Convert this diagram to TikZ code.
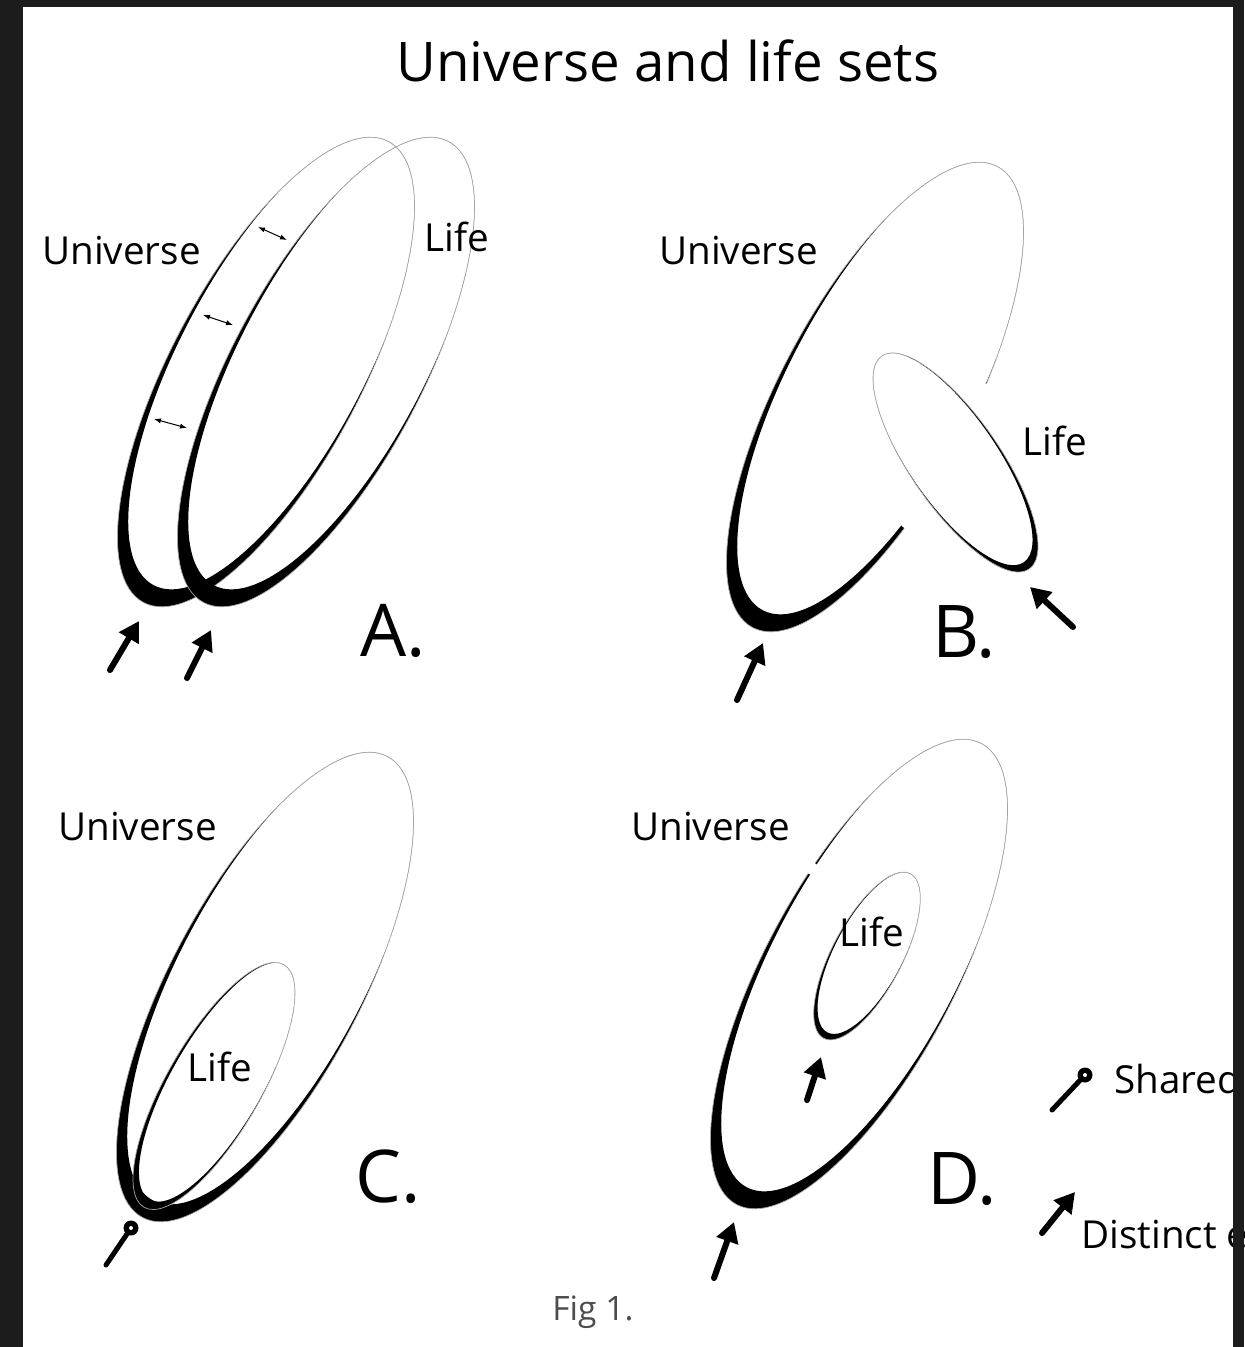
\documentclass[tikz,border=0pt]{standalone}
\usepackage{fontspec}
\setmainfont{Open Sans}
\usetikzlibrary{arrows.meta}
\definecolor{framecol}{HTML}{1C1C1C}
\definecolor{figgray}{HTML}{4D4D4D}
% #1,#2 centre  #3 angle  #4,#5 outer radii  #6,#7 inner radii  #8,#9 inner shift
\newcommand\setring[9]{%
  \begin{scope}[shift={(#1,#2)}, rotate=#3]
    \begin{scope}
      \clip (0,0) ellipse [x radius=#4, y radius=#5];
      \fill[even odd rule]
        (0,0) ellipse [x radius=#4, y radius=#5]
        (#8,#9) ellipse [x radius=#6, y radius=#7];
    \end{scope}
    \draw[ringline] (0,0) ellipse [x radius=#4, y radius=#5];
  \end{scope}
}
\tikzset{
  lbl/.style={font=\fontsize{19.3}{23}\selectfont, anchor=base west, inner sep=0pt},
  ttl/.style={font=\fontsize{27.3}{33}\selectfont, anchor=base west, inner sep=0pt},
  letter/.style={font=\fontsize{36.4}{44}\selectfont, anchor=base west, inner sep=0pt},
  figlbl/.style={font=\fontsize{16.8}{20}\selectfont, text=figgray, anchor=base west, inner sep=0pt},
  ringline/.style={draw=black!35, line width=0.35pt},
  bigarrow/.style={line width=3pt, line cap=round, -{Triangle[length=10pt,width=11pt]}},
  sharedline/.style={line width=2.5pt, line cap=round},
  dblarrow/.style={line width=0.5pt, {Latex[length=3.5pt,width=2.6pt]}-{Latex[length=3.5pt,width=2.6pt]}},
}
\begin{document}
\begin{tikzpicture}[x=0.5pt,y=-0.5pt]
\useasboundingbox (0,0) rectangle (1244,1347);
\fill[white] (0,0) rectangle (1244,1347);

% ---------- Panel A ----------
\setring{266}{372}{62}{261}{95}{254.2}{92.6}{13.2}{0.8}
\setring{326}{372}{62}{261}{95}{254.2}{92.6}{13.2}{0.8}
\coordinate (a1s) at (258,227); \coordinate (a1e) at (287,240);
\coordinate (a2s) at (203,315); \coordinate (a2e) at (233,325);
\coordinate (a3s) at (154,419); \coordinate (a3e) at (187,428);
\draw[dblarrow] (a1s) -- (a1e);
\draw[dblarrow] (a2s) -- (a2e);
\draw[dblarrow] (a3s) -- (a3e);
\coordinate (aat) at (110,670); \coordinate (aah) at (139,621);
\coordinate (abt) at (187,678); \coordinate (abh) at (211,630);
\draw[bigarrow] (aat) -- (aah);
\draw[bigarrow] (abt) -- (abh);

% ---------- Panel B ----------
\setring{875}{397}{62}{261}{95}{254.2}{92.6}{13.2}{0.8}
\fill[white] (972,379) -- (1000,389) -- (975,470) -- (914,537) -- (892,517) -- cycle;
\setring{955.5}{462.5}{-55.3}{129.5}{45}{125.5}{43.9}{-4.6}{0.5}
\coordinate (bat) at (737,700); \coordinate (bah) at (763,643);
\coordinate (bbt) at (1073,627); \coordinate (bbh) at (1030,587);
\draw[bigarrow] (bat) -- (bah);
\draw[bigarrow] (bbt) -- (bbh);

% ---------- Panel C ----------
\setring{265}{987}{62}{261}{95}{254.2}{92.6}{13.2}{0.8}
\setring{214}{1086}{60}{140}{47}{135.5}{45.4}{5.0}{0.9}
\coordinate (cst) at (106,1265); \coordinate (csh) at (131,1228);
\draw[sharedline] (cst) -- (csh);
\fill (csh) circle [radius=7.5];
\fill[white] (csh) circle [radius=2];

% ---------- Panel D ----------
\setring{859}{974}{62}{261}{95}{254.2}{92.6}{13.2}{0.8}
\coordinate (dg1) at (802.6,862.6); \coordinate (dg2) at (819.4,873.4);
\draw[white, line width=6pt] (dg1) -- (dg2);
\setring{867}{956}{62.2}{93}{35}{89.7}{34.0}{3.6}{0.45}
\coordinate (dat) at (714,1278); \coordinate (dah) at (734,1222);
\coordinate (dbt) at (807,1100); \coordinate (dbh) at (821,1057);
\draw[bigarrow] (dat) -- (dah);
\draw[bigarrow] (dbt) -- (dbh);

% ---------- Legend ----------
\coordinate (lst) at (1052,1110); \coordinate (lsh) at (1085,1075);
\draw[sharedline] (lst) -- (lsh);
\fill (lsh) circle [radius=7.5];
\fill[white] (lsh) circle [radius=2];
\coordinate (ldt) at (1042,1233); \coordinate (ldh) at (1075,1192);
\draw[bigarrow] (ldt) -- (ldh);

% ---------- Texts ----------
\node[ttl] (title) at (396,82) {Universe and life sets};
\node[lbl] (uA) at (42,265) {Universe};
\node[lbl] (lA) at (424,252) {Life};
\node[letter] (A) at (360,656) {A.};
\node[lbl] (uB) at (659,265) {Universe};
\node[lbl] (lB) at (1022,455) {Life};
\node[letter] (B) at (932,657) {B.};
\node[lbl] (uC) at (58,840) {Universe};
\node[lbl] (lC) at (187,1081) {Life};
\node[letter] (C) at (355,1202) {C.};
\node[lbl] (uD) at (631,840) {Universe};
\node[lbl] (lD) at (839,946) {Life};
\node[letter] (D) at (927,1204) {D.};
\node[figlbl] (fig) at (552,1320) {Fig 1.};
\node[lbl] (shared) at (1114,1093) {Shared edge};
\node[lbl] (distinct) at (1081,1248) {Distinct edge};

% ---------- Frame ----------
\fill[framecol] (0,0) rectangle (23,1347);
\fill[framecol] (0,0) rectangle (1244,7);
\fill[framecol] (1233,0) rectangle (1244,1347);
\end{tikzpicture}
\end{document}
